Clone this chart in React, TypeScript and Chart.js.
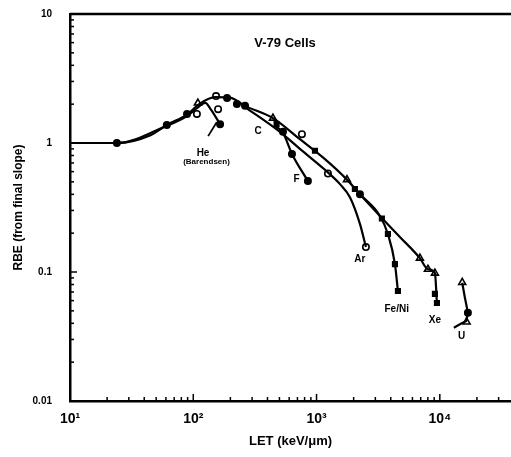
import React, { useEffect, useRef } from "react";
import { Chart, registerables } from "chart.js";

Chart.register(...registerables);

const X_MIN = 10;
const X_MAX = 37800;
const Y_MIN = 0.01;
const Y_MAX = 10;

const X_TICK_VALUES = [10, 100, 1000, 10000];
const X_TICK_LABELS = ["10¹", "10²", "10³", "10⁴"];
const Y_TICK_VALUES = [0.01, 0.1, 1, 10];
const Y_TICK_LABELS = ["0.01", "0.1", "1", "10"];

const CHART_TITLE = "V-79 Cells";
const X_TITLE = "LET (keV/μm)";
const Y_TITLE = "RBE (from final slope)";

// curves (LET keV/um, RBE)
const XE_LET = [10, 24, 45, 61, 89, 113, 150, 199, 263, 443, 733, 1170, 1765, 2249, 3268, 4742, 6896, 8009, 9126, 9474];
const XE_RBE = [1, 1, 1.15, 1.38, 1.66, 2.02, 2.27, 2.25, 1.94, 1.56, 1.07, 0.75, 0.52, 0.4, 0.272, 0.187, 0.128, 0.105, 0.098, 0.0575];

const FENI_LET = [2249, 3268, 3793, 4325, 4573];
const FENI_RBE = [0.4, 0.272, 0.197, 0.115, 0.0712];

const AR_LET = [263, 505, 733, 1170, 1550, 1866, 2249, 2515];
const AR_RBE = [1.9, 1.22, 0.9, 0.62, 0.48, 0.38, 0.236, 0.156];

const F_LET = [460, 534, 632, 851];
const F_RBE = [1.36, 1.2, 0.822, 0.507];

const HE_LET = [10, 24, 61, 89, 110, 125, 140, 165];
const HE_RBE = [1, 1, 1.36, 1.62, 1.9, 2.05, 1.8, 1.4];

const U_LET = [15200, 15980, 16900, 16380, 14550, 13000];
const U_RBE = [0.0826, 0.0632, 0.0484, 0.0417, 0.0393, 0.037];

const LEADER_LET = [132, 155];
const LEADER_RBE = [1.13, 1.45];

// markers
const FILLED_LET = [24, 61, 89, 165, 188, 226, 263, 534, 632, 851, 2249, 16900];
const FILLED_RBE = [1.0, 1.38, 1.68, 1.4, 2.23, 2.01, 1.94, 1.22, 0.822, 0.507, 0.4, 0.0484];

const OPEN_LET = [107, 153, 159, 761, 1237, 2515];
const OPEN_RBE = [1.68, 2.31, 1.83, 1.17, 0.58, 0.156];

const TRI_LET = [109, 443, 1765, 6896, 8009, 9126, 15200, 16500];
const TRI_RBE = [2.04, 1.56, 0.52, 0.128, 0.105, 0.098, 0.083, 0.041];

const SQ_LET = [474, 971, 2047, 3388, 3793, 4325, 4573, 9126, 9474];
const SQ_RBE = [1.4, 0.87, 0.44, 0.26, 0.197, 0.115, 0.0712, 0.0677, 0.0575];

// text labels
const LABEL_TEXT = ["C", "F", "Ar", "Fe/Ni", "Xe", "U", "He", "(Barendsen)"];
const LABEL_LET = [335, 689, 2249, 4470, 9126, 15000, 120, 128];
const LABEL_RBE = [1.24, 0.523, 0.125, 0.0514, 0.0422, 0.0319, 0.84, 0.712];
const TITLE_LET = 555;
const TITLE_RBE = 5.95;

const FONT = "'Liberation Sans', Arial, sans-serif";

const pts = (xs: number[], ys: number[]) => xs.map((x, i) => ({ x, y: ys[i] }));

const lineDs = (xs: number[], ys: number[], smooth = true) => ({
  type: "line" as const,
  data: pts(xs, ys),
  borderColor: "#000",
  borderWidth: 2.2,
  pointRadius: 0,
  showLine: true,
  fill: false,
  tension: smooth ? 0.4 : 0,
  cubicInterpolationMode: smooth ? ("monotone" as const) : ("default" as const),
});

const markerDs = (xs: number[], ys: number[], style: string, bg: string, r: number) => ({
  type: "scatter" as const,
  data: pts(xs, ys),
  pointStyle: style,
  pointRadius: r,
  pointBackgroundColor: bg,
  pointBorderColor: "#000",
  pointBorderWidth: 1.6,
  showLine: false,
});

const decor = {
  id: "decor",
  afterDraw(chart: any) {
    const { ctx, chartArea, scales } = chart;
    const { left, right, top, bottom } = chartArea;
    const x = scales.x;
    const y = scales.y;
    ctx.save();
    ctx.strokeStyle = "#000";
    ctx.lineWidth = 2.5;
    ctx.beginPath();
    ctx.moveTo(left, top);
    ctx.lineTo(right, top);
    ctx.stroke();
    ctx.lineWidth = 1.5;
    for (let d = 10; d <= X_MAX; d *= 10) {
      for (let m = 1; m <= 9; m++) {
        const v = m * d;
        if (v > X_MAX) break;
        const px = x.getPixelForValue(v);
        const len = m === 1 ? 7 : 4;
        ctx.beginPath();
        ctx.moveTo(px, bottom);
        ctx.lineTo(px, bottom - len);
        ctx.stroke();
      }
    }
    for (let d = 0.01; d < Y_MAX * 1.01; d *= 10) {
      for (let m = 1; m <= 9; m++) {
        const v = m * d;
        if (v > Y_MAX * 1.0001) break;
        const py = y.getPixelForValue(v);
        const len = m === 1 ? 7 : 4;
        ctx.beginPath();
        ctx.moveTo(left, py);
        ctx.lineTo(left + len, py);
        ctx.stroke();
      }
    }
    ctx.fillStyle = "#000";
    ctx.textAlign = "center";
    ctx.textBaseline = "middle";
    LABEL_TEXT.forEach((t, i) => {
      ctx.font = `bold ${t === "(Barendsen)" ? 8 : 10}px ${FONT}`;
      ctx.fillText(t, x.getPixelForValue(LABEL_LET[i]), y.getPixelForValue(LABEL_RBE[i]));
    });
    ctx.font = `bold 13px ${FONT}`;
    ctx.fillText(CHART_TITLE, x.getPixelForValue(TITLE_LET), y.getPixelForValue(TITLE_RBE));
    ctx.restore();
  },
};

export default function App() {
  const ref = useRef<HTMLCanvasElement | null>(null);
  useEffect(() => {
    if (!ref.current) return;
    const chart = new Chart(ref.current, {
      type: "scatter",
      data: {
        datasets: [
          lineDs(XE_LET, XE_RBE),
          lineDs(FENI_LET, FENI_RBE),
          lineDs(AR_LET, AR_RBE),
          lineDs(F_LET, F_RBE),
          lineDs(HE_LET, HE_RBE),
          lineDs(U_LET, U_RBE, false),
          { ...lineDs(LEADER_LET, LEADER_RBE, false), borderWidth: 1.8 },
          markerDs(FILLED_LET, FILLED_RBE, "circle", "#000", 3.2),
          markerDs(OPEN_LET, OPEN_RBE, "circle", "#fff", 3.2),
          markerDs(TRI_LET, TRI_RBE, "triangle", "#fff", 4),
          markerDs(SQ_LET, SQ_RBE, "rect", "#000", 3.2),
        ] as any,
      },
      plugins: [decor],
      options: {
        animation: false,
        responsive: false,
        layout: { autoPadding: false, padding: { top: 14, right: 0, bottom: 0, left: 0 } },
        plugins: { legend: { display: false }, tooltip: { enabled: false }, title: { display: false } },
        scales: {
          x: {
            type: "logarithmic",
            min: X_MIN,
            max: X_MAX,
            grid: { display: false, drawTicks: false },
            border: { display: true, color: "#000", width: 2.5 },
            afterBuildTicks: (s: any) => {
              s.ticks = X_TICK_VALUES.map((v) => ({ value: v }));
            },
            afterFit: (s: any) => {
              s.height = 56;
              s.paddingLeft = 0;
              s.paddingRight = 0;
            },
            ticks: {
              color: "#000",
              padding: 10,
              maxRotation: 0,
              autoSkip: false,
              font: { family: FONT, size: 14, weight: "bold" },
              callback: (_v: any, i: number) => X_TICK_LABELS[i],
            },
            title: {
              display: true,
              text: X_TITLE,
              color: "#000",
              font: { family: FONT, size: 13, weight: "bold" },
              padding: { top: 0, bottom: 8 },
            },
          },
          y: {
            type: "logarithmic",
            min: Y_MIN,
            max: Y_MAX,
            grid: { display: false, drawTicks: false },
            border: { display: true, color: "#000", width: 2.5 },
            afterBuildTicks: (s: any) => {
              s.ticks = Y_TICK_VALUES.map((v) => ({ value: v }));
            },
            afterFit: (s: any) => {
              s.width = 70;
              s.paddingTop = 0;
              s.paddingBottom = 0;
            },
            ticks: {
              color: "#000",
              padding: 18,
              autoSkip: false,
              font: { family: FONT, size: 10, weight: "bold" },
              callback: (_v: any, i: number) => Y_TICK_LABELS[i],
            },
            title: {
              display: true,
              text: Y_TITLE,
              color: "#000",
              font: { family: FONT, size: 12, weight: "bold" },
              padding: { top: 11, bottom: 0 },
            },
          },
        },
      },
    });
    return () => chart.destroy();
  }, []);
  return (
    <div style={{ position: "fixed", left: 0, top: 0, width: 511, height: 457, background: "#fff" }}>
      <canvas ref={ref} width={511} height={457} style={{ width: 511, height: 457, display: "block" }} />
    </div>
  );
}
